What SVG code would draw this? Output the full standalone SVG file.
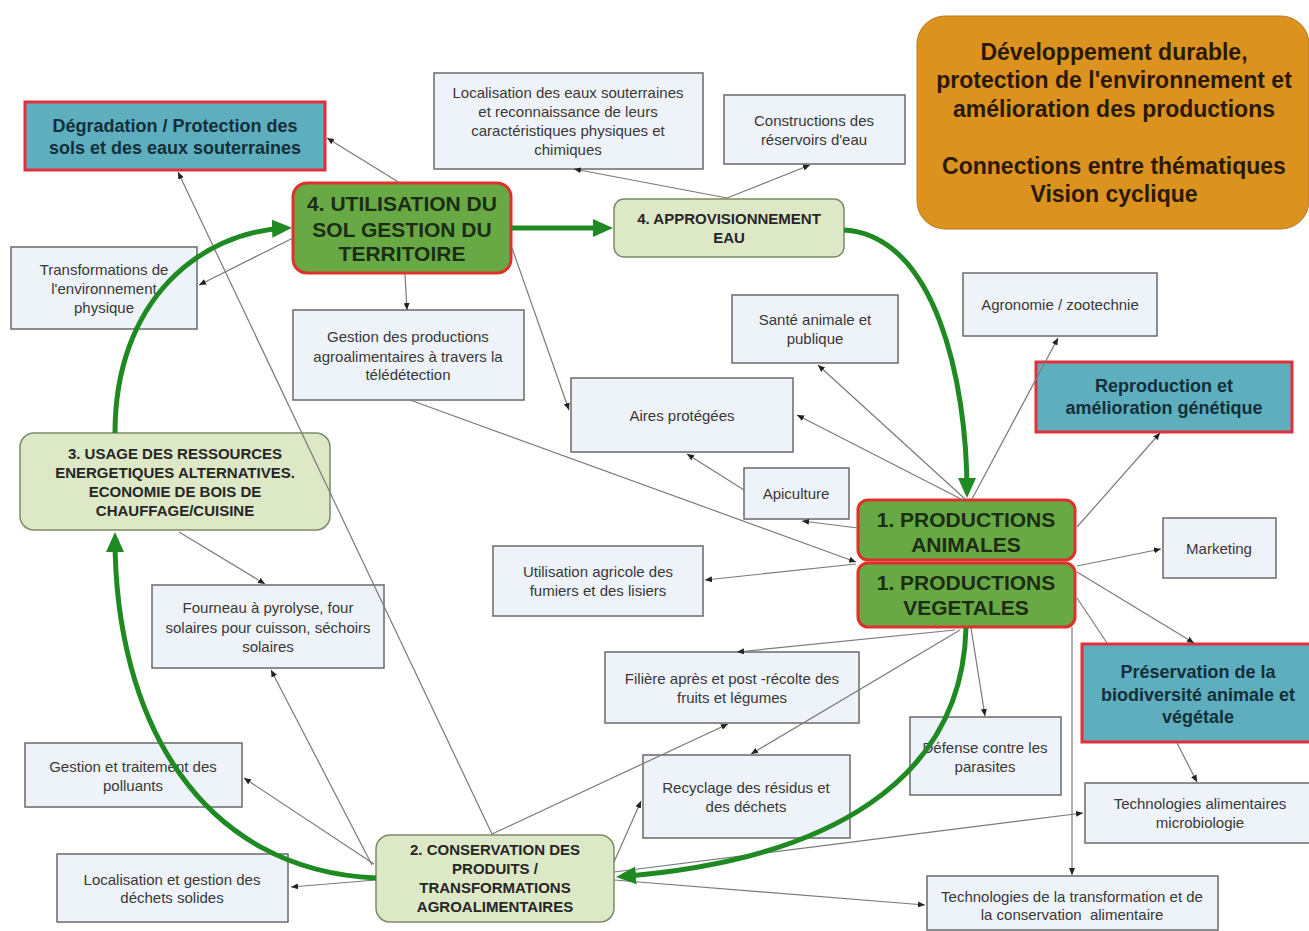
<svg xmlns="http://www.w3.org/2000/svg" width="1309" height="931" viewBox="0 0 1309 931">
<defs>
<marker id="ar" markerWidth="7" markerHeight="6" refX="7" refY="3" orient="auto" markerUnits="userSpaceOnUse"><path d="M0,0 L7,3 L0,6 z" fill="#222"/></marker>
<marker id="big" markerWidth="20" markerHeight="18" refX="14" refY="9" orient="auto" markerUnits="userSpaceOnUse"><path d="M0,0 L20,9 L0,18 z" fill="#1f8a22"/></marker>
</defs>
<style>
.box{fill:#edf3f9;stroke:#6a6a6a;stroke-width:1.5}
.teal{fill:#5eaebd;stroke:#e1303a;stroke-width:3}
.green{fill:#68a845;stroke:#e0302b;stroke-width:3}
.lg{fill:#dde8c6;stroke:#7c8a6a;stroke-width:1.5}
.org{fill:#db921e;stroke:#b97c22;stroke-width:1}
text{font-family:"Liberation Sans",Arial,sans-serif;text-anchor:middle}
.t{font-size:15px;fill:#383838}
.tb{font-size:18px;font-weight:bold;fill:#13303a}
.tg{font-size:21px;font-weight:bold;fill:#1b2e12}
.tl{font-size:15px;font-weight:bold;fill:#262626}
.to{font-size:23px;font-weight:bold;fill:#2a1a05}
.c{stroke:#7a7a7a;stroke-width:1.2;fill:none;marker-end:url(#ar)}
.cn{stroke:#7a7a7a;stroke-width:1.2;fill:none}
.g{stroke:#1f8a22;stroke-width:5;fill:none;marker-end:url(#big)}
</style>
<rect width="1309" height="931" fill="#ffffff"/>

<g id="n-legend"><rect class="org" x="917" y="16" width="392" height="213" rx="28"/>
<text class="to" x="1114" y="60">Développement durable,</text>
<text class="to" x="1114" y="88">protection de l'environnement et</text>
<text class="to" x="1114" y="117">amélioration des productions</text>
<text class="to" x="1114" y="174">Connections entre thématiques</text>
<text class="to" x="1114" y="202">Vision cyclique</text></g>

<g id="n-degradation"><rect class="teal" x="25" y="102" width="300" height="68"/>
<text class="tb" x="175" y="132">Dégradation / Protection des</text>
<text class="tb" x="175" y="154">sols et des eaux souterraines</text></g>

<g id="n-localisation-eaux"><rect class="box" x="434" y="73" width="269" height="96"/>
<text class="t" x="568" y="98">Localisation des eaux souterraines</text>
<text class="t" x="568" y="117">et reconnaissance de leurs</text>
<text class="t" x="568" y="136">caractéristiques physiques et</text>
<text class="t" x="568" y="155">chimiques</text></g>

<g id="n-constructions"><rect class="box" x="724" y="95" width="181" height="69"/>
<text class="t" x="814" y="126">Constructions des</text>
<text class="t" x="814" y="145">réservoirs d'eau</text></g>

<g id="n-utilisation"><rect class="green" x="293" y="183" width="218" height="90" rx="14"/>
<text class="tg" x="402" y="211">4. UTILISATION DU</text>
<text class="tg" x="402" y="237">SOL GESTION DU</text>
<text class="tg" x="402" y="261">TERRITOIRE</text></g>

<g id="n-approvisionnement"><rect class="lg" x="614" y="199" width="230" height="58" rx="10"/>
<text class="tl" x="729" y="224">4. APPROVISIONNEMENT</text>
<text class="tl" x="729" y="243">EAU</text></g>

<g id="n-transformations"><rect class="box" x="11" y="247" width="186" height="82"/>
<text class="t" x="104" y="275">Transformations de</text>
<text class="t" x="104" y="294">l'environnement</text>
<text class="t" x="104" y="313">physique</text></g>

<g id="n-gestion-prod"><rect class="box" x="293" y="310" width="231" height="90"/>
<text class="t" x="408" y="342">Gestion des productions</text>
<text class="t" x="408" y="362">agroalimentaires à travers la</text>
<text class="t" x="408" y="380">télédétection</text></g>

<g id="n-sante"><rect class="box" x="732" y="295" width="166" height="68"/>
<text class="t" x="815" y="325">Santé animale et</text>
<text class="t" x="815" y="344">publique</text></g>

<g id="n-agronomie"><rect class="box" x="963" y="273" width="194" height="63"/>
<text class="t" x="1060" y="310">Agronomie / zootechnie</text></g>

<g id="n-reproduction"><rect class="teal" x="1036" y="362" width="256" height="70"/>
<text class="tb" x="1164" y="392">Reproduction et</text>
<text class="tb" x="1164" y="414">amélioration génétique</text></g>

<g id="n-aires"><rect class="box" x="571" y="378" width="222" height="74"/>
<text class="t" x="682" y="421">Aires protégées</text></g>

<g id="n-apiculture"><rect class="box" x="744" y="468" width="105" height="51"/>
<text class="t" x="796" y="499">Apiculture</text></g>

<g id="n-usage"><rect class="lg" x="20" y="433" width="310" height="97" rx="14"/>
<text class="tl" x="175" y="459">3. USAGE DES RESSOURCES</text>
<text class="tl" x="175" y="478">ENERGETIQUES ALTERNATIVES.</text>
<text class="tl" x="175" y="497">ECONOMIE DE BOIS DE</text>
<text class="tl" x="175" y="516">CHAUFFAGE/CUISINE</text></g>

<g id="n-prod-animales"><rect class="green" x="858" y="500" width="217" height="60" rx="10"/>
<text class="tg" x="966" y="527">1. PRODUCTIONS</text>
<text class="tg" x="966" y="552">ANIMALES</text></g>

<g id="n-prod-vegetales"><rect class="green" x="858" y="563" width="217" height="64" rx="10"/>
<text class="tg" x="966" y="590">1. PRODUCTIONS</text>
<text class="tg" x="966" y="615">VEGETALES</text></g>

<g id="n-utilisation-agricole"><rect class="box" x="493" y="546" width="210" height="70"/>
<text class="t" x="598" y="577">Utilisation agricole des</text>
<text class="t" x="598" y="596">fumiers et des lisiers</text></g>

<g id="n-marketing"><rect class="box" x="1163" y="518" width="113" height="60"/>
<text class="t" x="1219" y="554">Marketing</text></g>

<g id="n-fourneau"><rect class="box" x="152" y="585" width="232" height="83"/>
<text class="t" x="268" y="613">Fourneau à pyrolyse, four</text>
<text class="t" x="268" y="633">solaires pour cuisson, séchoirs</text>
<text class="t" x="268" y="652">solaires</text></g>

<g id="n-filiere"><rect class="box" x="605" y="652" width="254" height="71"/>
<text class="t" x="732" y="684">Filière après et post -récolte des</text>
<text class="t" x="732" y="703">fruits et légumes</text></g>

<g id="n-preservation"><rect class="teal" x="1082" y="644" width="232" height="98"/>
<text class="tb" x="1198" y="678">Préservation de la</text>
<text class="tb" x="1198" y="701">biodiversité animale et</text>
<text class="tb" x="1198" y="723">végétale</text></g>

<g id="n-defense"><rect class="box" x="910" y="717" width="151" height="78"/>
<text class="t" x="985" y="753">Défense contre les</text>
<text class="t" x="985" y="772">parasites</text></g>

<g id="n-polluants"><rect class="box" x="25" y="743" width="217" height="64"/>
<text class="t" x="133" y="772">Gestion et traitement des</text>
<text class="t" x="133" y="791">polluants</text></g>

<g id="n-recyclage"><rect class="box" x="643" y="755" width="207" height="83"/>
<text class="t" x="746" y="793">Recyclage des résidus et</text>
<text class="t" x="746" y="812">des déchets</text></g>

<g id="n-tech-alim"><rect class="box" x="1085" y="783" width="228" height="60"/>
<text class="t" x="1200" y="809">Technologies alimentaires</text>
<text class="t" x="1200" y="828">microbiologie</text></g>

<g id="n-conservation"><rect class="lg" x="376" y="835" width="238" height="87" rx="14"/>
<text class="tl" x="495" y="855">2. CONSERVATION DES</text>
<text class="tl" x="495" y="874">PRODUITS /</text>
<text class="tl" x="495" y="893">TRANSFORMATIONS</text>
<text class="tl" x="495" y="912">AGROALIMENTAIRES</text></g>

<g id="n-dechets"><rect class="box" x="57" y="854" width="231" height="68"/>
<text class="t" x="172" y="885">Localisation et gestion des</text>
<text class="t" x="172" y="903">déchets solides</text></g>

<g id="n-tech-transfo"><rect class="box" x="927" y="876" width="291" height="54"/>
<text class="t" x="1072" y="902">Technologies de la transformation et de</text>
<text class="t" x="1072" y="920">la conservation&#160; alimentaire</text></g>

<g id="connectors">
<line class="c" x1="400" y1="183" x2="327" y2="138"/>
<line class="c" x1="293" y1="238" x2="199" y2="285"/>
<line class="c" x1="405" y1="274" x2="407" y2="310"/>
<line class="c" x1="512" y1="248" x2="569" y2="410"/>
<line class="c" x1="727" y1="198" x2="574" y2="169"/>
<line class="c" x1="727" y1="198" x2="810" y2="165"/>
<line class="c" x1="965" y1="499" x2="818" y2="365"/>
<line class="c" x1="963" y1="500" x2="797" y2="415"/>
<line class="c" x1="972" y1="499" x2="1058" y2="338"/>
<line class="c" x1="1077" y1="527" x2="1160" y2="433"/>
<line class="c" x1="858" y1="528" x2="802" y2="521"/>
<line class="c" x1="744" y1="490" x2="687" y2="454"/>
<line class="c" x1="410" y1="400" x2="856" y2="562"/>
<line class="c" x1="856" y1="564" x2="705" y2="580"/>
<line class="c" x1="1077" y1="566" x2="1161" y2="549"/>
<line class="c" x1="1077" y1="572" x2="1194" y2="643"/>
<line class="cn" x1="1077" y1="598" x2="1107" y2="643"/>
<line class="c" x1="1177" y1="743" x2="1197" y2="782"/>
<line class="c" x1="1072" y1="627" x2="1072" y2="875"/>
<line class="c" x1="971" y1="628" x2="985" y2="716"/>
<line class="c" x1="955" y1="630" x2="737" y2="652"/>
<line class="c" x1="960" y1="630" x2="751" y2="754"/>
<line class="c" x1="492" y1="834" x2="178" y2="172"/>
<line class="c" x1="372" y1="865" x2="271" y2="670"/>
<line class="c" x1="374" y1="864" x2="244" y2="778"/>
<line class="c" x1="376" y1="880" x2="291" y2="887"/>
<line class="c" x1="492" y1="834" x2="728" y2="724"/>
<line class="c" x1="614" y1="862" x2="641" y2="801"/>
<line class="c" x1="614" y1="872" x2="1083" y2="813"/>
<line class="c" x1="614" y1="880" x2="925" y2="905"/>
<line class="c" x1="179" y1="532" x2="265" y2="584"/>
<path class="g" d="M511,228 L607,228"/>
<path class="g" d="M844,230 C935,235 967,380 967,492"/>
<path class="g" d="M966,628 C962,780 830,860 622,876.5"/>
<path class="g" d="M376,878 C200,870 115,720 115,538"/>
<path class="g" d="M115,433 C115,300 200,232 286,228"/>
</g>
</svg>
